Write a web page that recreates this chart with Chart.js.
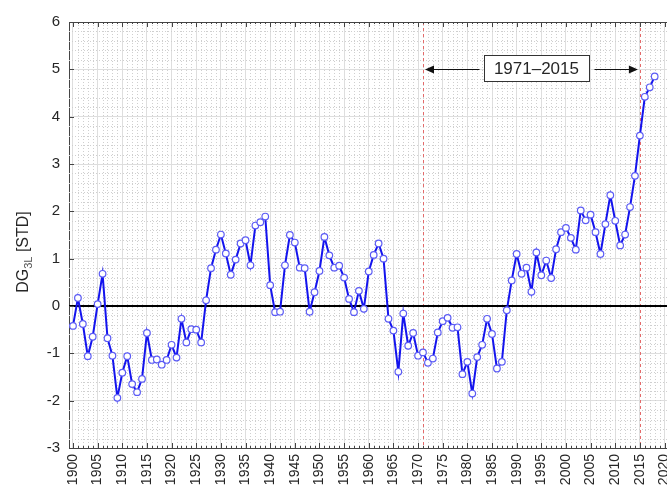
<!DOCTYPE html>
<html>
<head>
<meta charset="utf-8">
<script src="https://cdn.jsdelivr.net/npm/chart.js@4.4.1/dist/chart.umd.min.js"></script>
<style>
  html, body { margin: 0; padding: 0; background: #fff; }
  #wrap { width: 667px; height: 491px; }
</style>
</head>
<body>
<div id="wrap"><canvas id="dgChart" width="667" height="491"></canvas></div>
<script>
const years = [
  1900, 1901, 1902, 1903, 1904, 1905, 1906, 1907, 1908, 1909,
  1910, 1911, 1912, 1913, 1914, 1915, 1916, 1917, 1918, 1919,
  1920, 1921, 1922, 1923, 1924, 1925, 1926, 1927, 1928, 1929,
  1930, 1931, 1932, 1933, 1934, 1935, 1936, 1937, 1938, 1939,
  1940, 1941, 1942, 1943, 1944, 1945, 1946, 1947, 1948, 1949,
  1950, 1951, 1952, 1953, 1954, 1955, 1956, 1957, 1958, 1959,
  1960, 1961, 1962, 1963, 1964, 1965, 1966, 1967, 1968, 1969,
  1970, 1971, 1972, 1973, 1974, 1975, 1976, 1977, 1978, 1979,
  1980, 1981, 1982, 1983, 1984, 1985, 1986, 1987, 1988, 1989,
  1990, 1991, 1992, 1993, 1994, 1995, 1996, 1997, 1998, 1999,
  2000, 2001, 2002, 2003, 2004, 2005, 2006, 2007, 2008, 2009,
  2010, 2011, 2012, 2013, 2014, 2015, 2016, 2017, 2018
];
const dgValues = [
  -0.42, 0.17, -0.38, -1.06, -0.65, 0.04, 0.68, -0.68, -1.05, -1.94,
  -1.41, -1.06, -1.65, -1.82, -1.54, -0.57, -1.14, -1.13, -1.24, -1.14,
  -0.82, -1.09, -0.27, -0.77, -0.49, -0.50, -0.77, 0.12, 0.80, 1.19,
  1.51, 1.11, 0.66, 0.98, 1.32, 1.39, 0.86, 1.70, 1.77, 1.89,
  0.44, -0.13, -0.12, 0.86, 1.50, 1.34, 0.81, 0.80, -0.12, 0.29,
  0.74, 1.46, 1.07, 0.81, 0.85, 0.60, 0.15, -0.13, 0.32, -0.06,
  0.73, 1.08, 1.32, 1.00, -0.27, -0.52, -1.39, -0.16, -0.84, -0.57,
  -1.05, -0.98, -1.20, -1.11, -0.56, -0.32, -0.25, -0.46, -0.45, -1.44,
  -1.18, -1.85, -1.08, -0.82, -0.27, -0.59, -1.32, -1.18, -0.09, 0.54,
  1.10, 0.68, 0.81, 0.30, 1.13, 0.65, 0.96, 0.59, 1.20, 1.56,
  1.65, 1.44, 1.19, 2.02, 1.81, 1.93, 1.56, 1.10, 1.73, 2.34,
  1.80, 1.28, 1.51, 2.09, 2.75, 3.60, 4.42, 4.62, 4.85
];
const xTickYears = [1900, 1905, 1910, 1915, 1920, 1925, 1930, 1935, 1940, 1945, 1950, 1955,
  1960, 1965, 1970, 1975, 1980, 1985, 1990, 1995, 2000, 2005, 2010, 2015, 2020];
const yTickValues = [-3, -2, -1, 0, 1, 2, 3, 4, 5, 6];
const periodStart = 1971;
const periodEnd = 2015;
const periodLabel = '1971\u20132015';
const periodArrowLevel = 5;

const FONT = "'Liberation Sans', Arial, Helvetica, sans-serif";
const TEXT = '#262626';

const points = years.map((yr, i) => ({ x: yr, y: dgValues[i] }));

// minor dotted grid, zero line, period markers, frame
const backdrop = {
  id: 'backdrop',
  beforeDatasetsDraw(chart) {
    const { ctx, chartArea: a, scales: { x, y } } = chart;
    ctx.save();
    ctx.lineWidth = 1;
    ctx.strokeStyle = '#cfcfcf';
    ctx.setLineDash([1, 2]);
    for (let yr = 1900; yr <= 2020; yr++) {
      if (yr % 5 === 0) continue;
      const px = Math.round(x.getPixelForValue(yr)) + 0.5;
      ctx.beginPath(); ctx.moveTo(px, a.top); ctx.lineTo(px, a.bottom); ctx.stroke();
    }
    for (let k = -15; k <= 30; k++) {
      if (k % 5 === 0) continue;
      const py = Math.round(y.getPixelForValue(k / 5)) + 0.5;
      ctx.beginPath(); ctx.moveTo(a.left, py); ctx.lineTo(a.right, py); ctx.stroke();
    }
    // period lines
    ctx.strokeStyle = '#e46a6a';
    ctx.setLineDash([3, 3]);
    [periodStart, periodEnd].forEach(yr => {
      const px = Math.round(x.getPixelForValue(yr)) + 0.5;
      ctx.beginPath(); ctx.moveTo(px, a.top); ctx.lineTo(px, a.bottom); ctx.stroke();
    });
    // zero line
    ctx.setLineDash([]);
    ctx.strokeStyle = '#000';
    ctx.lineWidth = 2;
    const zy = Math.round(y.getPixelForValue(0));
    ctx.beginPath(); ctx.moveTo(a.left, zy); ctx.lineTo(a.right, zy); ctx.stroke();
    // frame top + ticks
    ctx.lineWidth = 1;
    ctx.strokeStyle = '#444';
    ctx.beginPath(); ctx.moveTo(a.left, a.top + 0.5); ctx.lineTo(a.right, a.top + 0.5); ctx.stroke();
    for (let yr = 1900; yr <= 2020; yr++) {
      const px = Math.round(x.getPixelForValue(yr)) + 0.5;
      const len = yr % 5 === 0 ? 5 : 2;
      ctx.beginPath();
      ctx.moveTo(px, a.top); ctx.lineTo(px, a.top + len);
      ctx.moveTo(px, a.bottom); ctx.lineTo(px, a.bottom - len);
      ctx.stroke();
    }
    yTickValues.forEach(v => {
      const py = Math.round(y.getPixelForValue(v)) + 0.5;
      ctx.beginPath(); ctx.moveTo(a.left, py); ctx.lineTo(a.left + 5, py); ctx.stroke();
    });
    ctx.restore();
  },
  afterDraw(chart) {
    const { ctx, scales: { x, y } } = chart;
    ctx.save();
    // y axis title with subscript
    ctx.translate(30, 252);
    ctx.rotate(-Math.PI / 2);
    ctx.fillStyle = TEXT;
    ctx.textBaseline = 'alphabetic';
    const big = '16px ' + FONT, small = '11px ' + FONT;
    ctx.font = big; const w1 = ctx.measureText('DG').width;
    ctx.font = small; const w2 = ctx.measureText('3L').width;
    ctx.font = big; const w3 = ctx.measureText(' [STD]').width;
    let tx = -(w1 + w2 + w3) / 2;
    ctx.font = big; ctx.fillText('DG', tx, -2); tx += w1;
    ctx.font = small; ctx.fillStyle = '#555'; ctx.fillText('3L', tx, 2); tx += w2;
    ctx.font = big; ctx.fillStyle = TEXT; ctx.fillText(' [STD]', tx, -2);
    ctx.restore();

    // period annotation
    ctx.save();
    const ay = Math.round(y.getPixelForValue(periodArrowLevel)) + 0.5;
    const x0 = x.getPixelForValue(periodStart) + 2;
    const x1 = x.getPixelForValue(periodEnd) - 2;
    ctx.font = '17px ' + FONT;
    const tw = ctx.measureText(periodLabel).width;
    const cx = (x0 + x1) / 2 + 5;
    const bx0 = Math.round(cx - tw / 2 - 10) + 0.5, bx1 = Math.round(cx + tw / 2 + 10) + 0.5;
    ctx.fillStyle = '#fff';
    ctx.fillRect(bx0, ay - 14, bx1 - bx0, 26);
    ctx.strokeStyle = '#333';
    ctx.lineWidth = 1;
    ctx.strokeRect(bx0, ay - 14, bx1 - bx0, 26);
    ctx.fillStyle = TEXT;
    ctx.textAlign = 'center';
    ctx.textBaseline = 'middle';
    ctx.fillText(periodLabel, cx, ay);
    ctx.strokeStyle = '#111';
    ctx.beginPath();
    ctx.moveTo(bx0 - 5, ay); ctx.lineTo(x0 + 6, ay);
    ctx.moveTo(bx1 + 5, ay); ctx.lineTo(x1 - 6, ay);
    ctx.stroke();
    ctx.fillStyle = '#111';
    ctx.beginPath();
    ctx.moveTo(x0, ay); ctx.lineTo(x0 + 9, ay - 4); ctx.lineTo(x0 + 9, ay + 4); ctx.closePath();
    ctx.moveTo(x1, ay); ctx.lineTo(x1 - 9, ay - 4); ctx.lineTo(x1 - 9, ay + 4); ctx.closePath();
    ctx.fill();
    ctx.restore();
  }
};

const ctx = document.getElementById('dgChart').getContext('2d');
const chart = new Chart(ctx, {
  type: 'line',
  data: {
    datasets: [{
      data: points,
      borderColor: '#1414ee',
      borderWidth: 2,
      tension: 0,
      pointRadius: 3.3,
      pointBackgroundColor: '#ffffff',
      pointBorderColor: '#5c5cf5',
      pointBorderWidth: 1.2,
    }],
  },
  options: {
    responsive: false,
    animation: false,
    layout: { autoPadding: false, padding: { top: 22, left: 0, right: 0, bottom: 0 } },
    plugins: { legend: { display: false }, tooltip: { enabled: false } },
    scales: {
      x: {
        type: 'linear',
        min: 1899.19,
        max: 2020.5,
        afterBuildTicks: s => { s.ticks = xTickYears.map(v => ({ value: v })); },
        afterFit: s => { s.height = 43; s.paddingLeft = 0; s.paddingRight = 0; },
        ticks: {
          autoSkip: false,
          minRotation: 90,
          maxRotation: 90,
          padding: 6,
          color: TEXT,
          font: { family: FONT, size: 14 },
          callback: v => String(v),
        },
        grid: { color: '#dedede', lineWidth: 1, drawTicks: false },
        border: { color: '#444', width: 1 },
      },
      y: {
        min: -3,
        max: 6,
        afterBuildTicks: s => { s.ticks = yTickValues.map(v => ({ value: v })); },
        afterFit: s => { s.width = 69; },
        ticks: {
          padding: 9,
          color: TEXT,
          font: { family: FONT, size: 15 },
          callback: v => String(v),
        },
        grid: { color: '#dedede', lineWidth: 1, drawTicks: false },
        border: { color: '#444', width: 1 },
      },
    },
  },
  plugins: [backdrop],
});
</script>
</body>
</html>
